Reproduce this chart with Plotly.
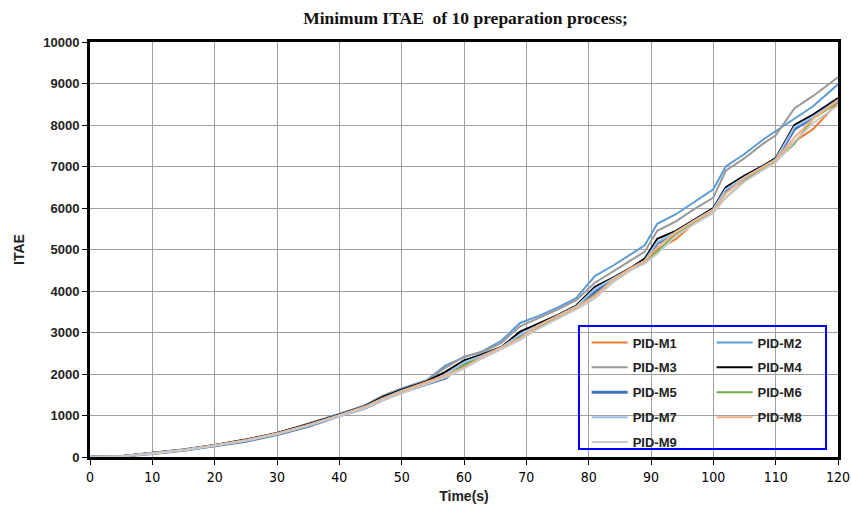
import plotly.graph_objects as go

time_s = [0, 5, 10, 15, 20, 25, 30, 35, 40, 44, 47, 50, 54, 57, 60, 63, 66, 69, 72, 75,
          78, 81, 84, 87, 89, 91, 94, 97, 100, 102, 105, 108, 110, 113, 116, 120]

pid_m1 = [0, 20, 90, 170, 280, 400, 560, 760, 1000, 1200, 1400, 1580, 1800, 1980, 2200, 2430, 2640, 2920, 3150, 3380,
          3620, 3900, 4250, 4560, 4720, 5000, 5250, 5650, 5920, 6400, 6700, 6980, 7150, 7600, 7900, 8550]
pid_m2 = [0, 20, 95, 170, 280, 410, 570, 800, 1030, 1230, 1480, 1650, 1850, 2200, 2400, 2550, 2800, 3230, 3400, 3600,
          3830, 4360, 4620, 4900, 5100, 5620, 5850, 6150, 6450, 7000, 7300, 7650, 7850, 8150, 8450, 8980]
pid_m3 = [0, 20, 95, 175, 285, 415, 575, 800, 1030, 1240, 1470, 1640, 1840, 2150, 2420, 2530, 2750, 3150, 3350, 3550,
          3780, 4200, 4480, 4750, 4950, 5450, 5680, 5980, 6250, 6900, 7200, 7550, 7750, 8400, 8700, 9150]
pid_m4 = [0, 20, 100, 180, 290, 420, 580, 790, 1020, 1220, 1450, 1620, 1820, 2050, 2330, 2480, 2650, 3020, 3220, 3420,
          3650, 4100, 4330, 4580, 4780, 5260, 5450, 5720, 6000, 6500, 6780, 7020, 7200, 8000, 8250, 8650]
pid_m5 = [0, 15, 85, 160, 270, 380, 540, 740, 990, 1170, 1380, 1560, 1760, 1900, 2250, 2420, 2620, 2900, 3160, 3380,
          3600, 3980, 4280, 4550, 4700, 5150, 5400, 5680, 5950, 6430, 6720, 6980, 7150, 7900, 8180, 8600]
pid_m6 = [0, 15, 90, 165, 275, 390, 550, 750, 1000, 1190, 1390, 1570, 1790, 1960, 2220, 2430, 2630, 2880, 3140, 3370,
          3600, 3900, 4260, 4560, 4700, 4950, 5380, 5660, 5920, 6250, 6650, 6950, 7130, 7550, 8150, 8550]
pid_m7 = [0, 20, 95, 175, 280, 400, 560, 770, 1010, 1210, 1420, 1600, 1800, 1980, 2280, 2450, 2640, 2950, 3180, 3400,
          3630, 4050, 4300, 4570, 4730, 5180, 5420, 5700, 5970, 6450, 6740, 7000, 7170, 7950, 8200, 8580]
pid_m8 = [0, 20, 90, 170, 285, 410, 570, 770, 1000, 1200, 1400, 1580, 1800, 1960, 2150, 2420, 2640, 2860, 3170, 3390,
          3610, 3880, 4280, 4570, 4720, 5050, 5420, 5690, 5940, 6350, 6720, 6990, 7160, 7700, 8150, 8600]
pid_m9 = [0, 15, 80, 160, 270, 390, 550, 750, 980, 1170, 1370, 1540, 1760, 1920, 2130, 2380, 2600, 2820, 3100, 3330,
          3560, 3820, 4220, 4520, 4660, 4900, 5330, 5620, 5880, 6250, 6640, 6920, 7100, 7600, 8050, 8470]

series_names = ["PID-M1", "PID-M2", "PID-M3", "PID-M4", "PID-M5", "PID-M6", "PID-M7", "PID-M8", "PID-M9"]
series_values = [pid_m1, pid_m2, pid_m3, pid_m4, pid_m5, pid_m6, pid_m7, pid_m8, pid_m9]
colors = ["#ED7D31", "#5B9BD5", "#999999", "#000000", "#4472C4", "#70AD47", "#9DC3E6", "#F4B183", "#C9C9C9"]
widths = [2, 2, 2, 2, 3, 2, 2, 2, 2]
x_ticks = list(range(0, 121, 10))
y_ticks = list(range(0, 10001, 1000))
y_tick_labels = [str(v) for v in y_ticks]

fig = go.Figure()
for i, (name, vals) in enumerate(zip(series_names, series_values)):
    fig.add_trace(go.Scatter(
        x=time_s, y=vals, mode="lines", name=name,
        line=dict(color=colors[i], width=widths[i]),
        legend="legend" if i % 2 == 0 else "legend2",
        legendgroup=name,
    ))

legend_common = dict(
    bgcolor="rgba(0,0,0,0)", borderwidth=0, itemwidth=36,
    font=dict(family="Liberation Sans, Arial, sans-serif", size=13, color="#222222", weight="bold"),
    tracegroupgap=5, yanchor="top", xanchor="left", y=0.312,
)

fig.update_layout(
    width=851, height=507,
    margin=dict(l=90, r=13, t=42, b=50),
    paper_bgcolor="white", plot_bgcolor="white",
    title=dict(text="Minimum ITAE  of 10 preparation process;", x=0.547, xanchor="center", y=0.965, yanchor="middle",
               font=dict(family="Liberation Serif, Times New Roman, serif", size=17.5, color="#111111", weight="bold")),
    showlegend=True,
    legend=dict(x=0.664, **legend_common),
    legend2=dict(x=0.831, **legend_common),
    xaxis=dict(range=[0, 120], tickvals=x_ticks, showgrid=True, gridcolor="#A0A0A0", gridwidth=1,
               showline=True, linecolor="black", linewidth=2.5, mirror=True, automargin=False,
               ticks="outside", ticklen=5, tickcolor="black", zeroline=False,
               tickfont=dict(family="Liberation Sans Narrow, DejaVu Sans Condensed, sans-serif", size=14, color="black"),
               title=dict(text="Time(s)", standoff=8,
                          font=dict(family="Liberation Sans, Arial, sans-serif", size=14, color="#222222", weight="bold"))),
    yaxis=dict(range=[0, 10000], tickvals=y_ticks, ticktext=y_tick_labels, showgrid=True, gridcolor="#A0A0A0", gridwidth=1,
               showline=True, linecolor="black", linewidth=3, mirror=True, automargin=False,
               ticks="outside", ticklen=5, tickcolor="black", zeroline=False,
               tickfont=dict(family="Liberation Sans, Arial, sans-serif", size=13, color="#222222", weight="bold"),
               title=dict(text="ITAE", standoff=16,
                          font=dict(family="Liberation Sans, Arial, sans-serif", size=14, color="#222222", weight="bold"))),
)

fig.add_shape(type="rect", xref="paper", yref="paper", x0=0.6537, x1=0.984, y0=0.0193, y1=0.3157,
              line=dict(color="#0000FF", width=2), fillcolor="rgba(0,0,0,0)")

fig.write_html("out.html")
